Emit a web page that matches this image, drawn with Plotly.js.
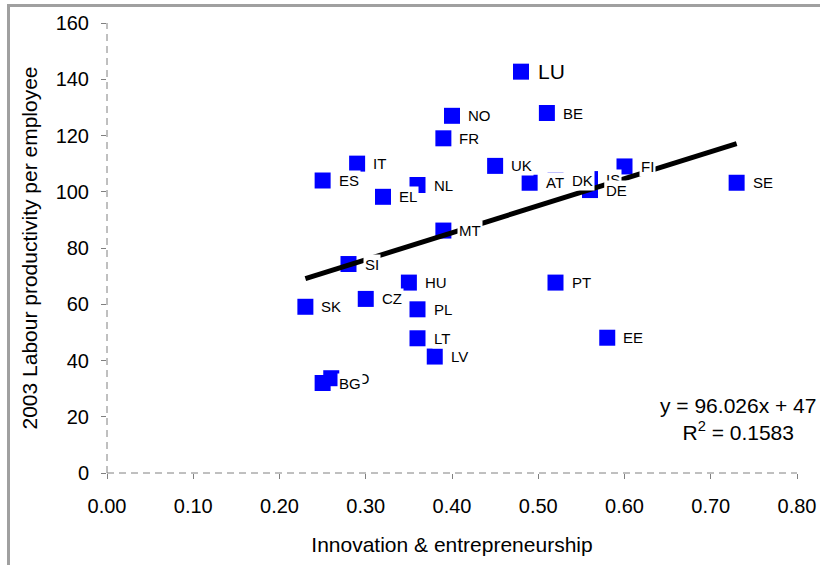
<!DOCTYPE html>
<html>
<head>
<meta charset="utf-8">
<script src="https://cdn.plot.ly/plotly-3.0.1.min.js"></script>
<style>
  body { margin: 0; background: #fff; }
  #wrap { position: relative; width: 820px; height: 565px; overflow: hidden; }
  #frame { position: absolute; left: 7px; top: 4px; width: 840px; height: 600px;
           border-left: 3px solid #a0a0a0; border-top: 3px solid #a0a0a0; pointer-events: none; }
</style>
</head>
<body>
<div id="wrap">
  <div id="grafico"></div>
  <div id="frame"></div>
</div>
<script>
// countries, innovation score (x) and 2003 labour productivity (y)
const paises = ['LU','BE','NO','FR','IT','UK','FI','IS','DK','ES','AT','SE','NL','DE','EL',
                'MT','SI','HU','PT','CZ','SK','PL','EE','LT','LV','RO','BG'];
const inovacao = [0.48,0.51,0.40,0.39,0.29,0.45,0.60,0.56,0.52,0.25,0.49,0.73,0.36,0.56,0.32,
                  0.39,0.28,0.35,0.52,0.30,0.23,0.36,0.58,0.36,0.38,0.26,0.25];
const produtividade = [142.7,128,127,119,110,109.2,109,104.5,104,104,103.2,103.2,102.4,100.6,98.2,
                       86.2,74.3,67.7,67.7,61.9,59.1,58.2,48.1,47.9,41.4,33.7,32];

// linear trendline end points (y = 96.026x + 47)
const tendX = [0.23, 0.73];
const tendY = [69.1, 117.1];
const equacao = 'y = 96.026x + 47<br>R<sup>2</sup> = 0.1583';

const fonte = 'Liberation Sans, Arial, sans-serif';

const tracePontos = {
    x: inovacao, y: produtividade, type: 'scatter', mode: 'markers',
    marker: { symbol: 'square', size: 16, color: '#0000ff', line: { width: 0 } },
    hoverinfo: 'skip'
};
const traceTend = {
    x: tendX, y: tendY, type: 'scatter', mode: 'lines',
    line: { color: '#000', width: 5 }, hoverinfo: 'skip'
};

const rotulos = paises.map((p, i) => ({
    x: inovacao[i], y: produtividade[i], text: p, showarrow: false,
    xanchor: 'left', yanchor: 'middle', xshift: p === 'LU' ? 15 : 14,
    bgcolor: '#fff', borderpad: 1,
    font: { family: fonte, size: p === 'LU' ? 21 : 15, color: '#000' }
}));
rotulos.push({
    xref: 'paper', yref: 'paper', x: 0.915, y: 0.12, text: equacao, showarrow: false,
    xanchor: 'center', yanchor: 'middle', align: 'center',
    font: { family: fonte, size: 21, color: '#000' }
});

const eixoTracejado = { color: '#808080', width: 1, dash: '7px,5px' };

Plotly.newPlot('grafico', [tracePontos, traceTend], {
    width: 820, height: 565, autosize: false,
    margin: { t: 23, b: 92, l: 107, r: 23 },
    paper_bgcolor: '#fff', plot_bgcolor: '#fff',
    showlegend: false,
    font: { family: fonte, color: '#000' },
    xaxis: {
        range: [0, 0.8], dtick: 0.1, tickformat: '.2f',
        showgrid: false, zeroline: false, showline: false,
        ticks: 'outside', ticklen: 5, tickcolor: '#808080',
        ticklabelstandoff: 10,
        tickfont: { size: 20 },
        title: { text: 'Innovation & entrepreneurship', font: { size: 21 }, standoff: 21 }
    },
    yaxis: {
        range: [0, 160], dtick: 20,
        showgrid: false, zeroline: false, showline: false,
        ticks: 'outside', ticklen: 5, tickcolor: '#808080',
        ticklabelstandoff: 8,
        tickfont: { size: 20 },
        title: { text: '2003 Labour productivity per employee', font: { size: 21 }, standoff: 12 }
    },
    shapes: [
        { type: 'line', xref: 'paper', yref: 'paper', x0: 0, x1: 0, y0: 0, y1: 1, line: eixoTracejado, layer: 'below' },
        { type: 'line', xref: 'paper', yref: 'paper', x0: 0, x1: 1, y0: 0, y1: 0, line: eixoTracejado, layer: 'below' }
    ],
    annotations: rotulos
}, { displayModeBar: false, staticPlot: true });
</script>
</body>
</html>
